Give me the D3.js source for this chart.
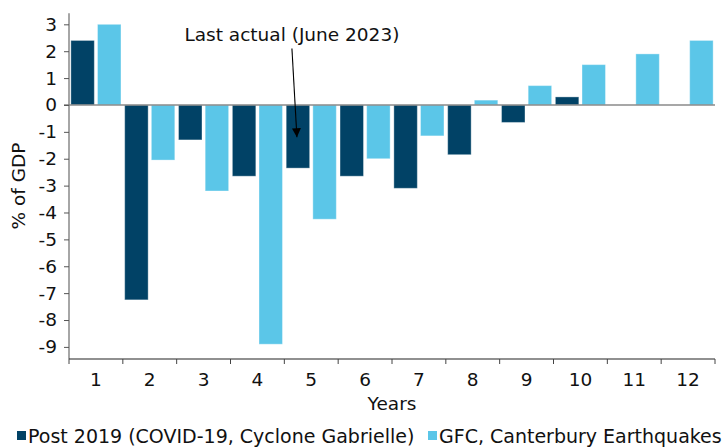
<!DOCTYPE html>
<html>
<head>
<meta charset="utf-8">
<script src="https://cdn.jsdelivr.net/npm/d3@7/dist/d3.min.js"></script>
<style>
  html, body { margin: 0; padding: 0; background: #fff; }
  svg { display: block; font-family: "DejaVu Sans", Verdana, sans-serif; }
</style>
</head>
<body>
<svg id="chart" width="723" height="448"></svg>
<script>
// ---- data ----
const categories = ["1","2","3","4","5","6","7","8","9","10","11","12"];
const seriesNames = ["Post 2019 (COVID-19, Cyclone Gabrielle)", "GFC, Canterbury Earthquakes"];
const post2019 = [2.4, -7.25, -1.3, -2.65, -2.35, -2.65, -3.1, -1.85, -0.65, 0.3, null, null];
const gfc = [3.0, -2.05, -3.2, -8.9, -4.25, -2.0, -1.15, 0.18, 0.72, 1.5, 1.9, 2.4];
const yTicks = [3, 2, 1, 0, -1, -2, -3, -4, -5, -6, -7, -8, -9];
const colors = ["#014266", "#5BC6E8"];
const annotationText = "Last actual (June 2023)";

(function () {
const svg = d3.select("#chart");
const pLeft = 69, pRight = 715, pTop = 13.3, pBottom = 359;
const fontSize = "18.5px";

const x0 = d3.scaleBand().domain(categories).range([pLeft, pRight]).padding(0);
const x1 = d3.scaleBand().domain([0, 1]).range([0, x0.bandwidth()]).paddingInner(0.12).paddingOuter(0.07);
const y = d3.scaleLinear().domain([-9.45, 3.41]).range([pBottom, pTop]);

const seriesVals = [post2019, gfc];

// bars
seriesVals.forEach((vals, si) => {
  svg.append("g").selectAll("rect")
    .data(categories.map((c, i) => ({c, v: vals[i]})).filter(d => d.v !== null))
    .join("rect")
    .attr("x", d => x0(d.c) + x1(si))
    .attr("width", x1.bandwidth())
    .attr("y", d => y(Math.max(0, d.v)))
    .attr("height", d => Math.abs(y(d.v) - y(0)))
    .attr("fill", colors[si])
    .attr("stroke", "rgba(255,255,255,0.35)")
    .attr("stroke-width", 1);
});

// zero line
svg.append("line")
  .attr("x1", pLeft - 5).attr("x2", pRight)
  .attr("y1", y(0)).attr("y2", y(0))
  .attr("stroke", "#8a8a8a").attr("stroke-width", 1.6);

// y axis
const yAxis = svg.append("g")
  .attr("transform", `translate(${pLeft},0)`)
  .call(d3.axisLeft(y).tickValues(yTicks).tickSize(5).tickPadding(7).tickFormat(d => String(d).replace("\u2212", "-")));
yAxis.select(".domain").attr("stroke", "#808080").attr("stroke-width", 1.4).attr("d", `M0,${pTop}V${pBottom}`);
yAxis.selectAll(".tick line").attr("stroke", "#555");
yAxis.selectAll(".tick text").attr("fill", "#111").style("font-size", fontSize).style("font-family", "DejaVu Sans, Verdana, sans-serif");

// x axis
const xAxisG = svg.append("g").attr("transform", `translate(0,${pBottom})`);
xAxisG.append("line").attr("x1", pLeft).attr("x2", pRight).attr("y1", 0).attr("y2", 0)
  .attr("stroke", "#222").attr("stroke-width", 1.2);
const boundaries = categories.map(c => x0(c)).concat([pRight]);
xAxisG.selectAll("line.tk").data(boundaries).join("line")
  .attr("class", "tk")
  .attr("x1", d => d).attr("x2", d => d).attr("y1", 0).attr("y2", 5)
  .attr("stroke", "#444");
xAxisG.selectAll("text").data(categories).join("text")
  .attr("x", d => x0(d) + x0.bandwidth() / 2)
  .attr("y", 27)
  .attr("text-anchor", "middle")
  .attr("fill", "#111")
  .style("font-size", fontSize)
  .text(d => d);

// axis titles
svg.append("text")
  .attr("x", (pLeft + pRight) / 2).attr("y", 410)
  .attr("text-anchor", "middle").attr("fill", "#111")
  .style("font-size", fontSize).text("Years");
svg.append("text")
  .attr("transform", `translate(25,186) rotate(-90)`)
  .attr("text-anchor", "middle").attr("fill", "#111")
  .style("font-size", fontSize).text("% of GDP");

// annotation
const defs = svg.append("defs");
defs.append("marker").attr("id", "arrow")
  .attr("viewBox", "0 0 10 10").attr("refX", 10).attr("refY", 5)
  .attr("markerWidth", 9).attr("markerHeight", 9).attr("markerUnits", "userSpaceOnUse")
  .attr("orient", "auto")
  .append("path").attr("d", "M0,0L10,5L0,10Z").attr("fill", "#000");
const tipX = x0("5") + x1(0) + x1.bandwidth() / 2 - 1;
const tailX = tipX - 5;
svg.append("line")
  .attr("x1", tailX).attr("y1", y(2.1))
  .attr("x2", tipX).attr("y2", y(-1.2))
  .attr("stroke", "#000").attr("stroke-width", 1.1)
  .attr("marker-end", "url(#arrow)");
svg.append("text")
  .attr("x", tailX).attr("y", 40.5)
  .attr("text-anchor", "middle").attr("fill", "#111")
  .style("font-size", fontSize).text(annotationText);

// legend
const legendPos = [{sx: 17, tx: 28}, {sx: 428, tx: 439}];
seriesNames.forEach((name, i) => {
  svg.append("rect").attr("x", legendPos[i].sx).attr("y", 431).attr("width", 9).attr("height", 9).attr("fill", colors[i]);
  svg.append("text").attr("x", legendPos[i].tx).attr("y", 443)
    .attr("fill", "#111").style("font-size", "19px").text(name);
});
})();
</script>
</body>
</html>
